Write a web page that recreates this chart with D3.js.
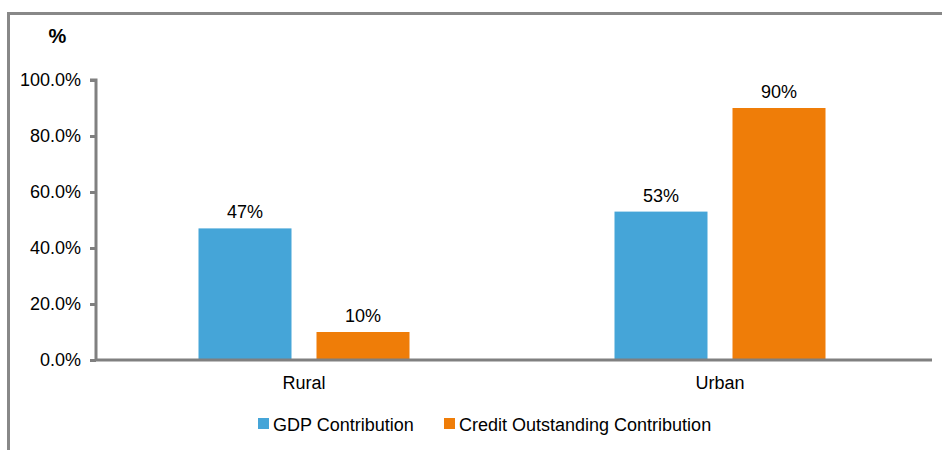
<!DOCTYPE html>
<html>
<head>
<meta charset="utf-8">
<script src="https://cdn.jsdelivr.net/npm/d3@7/dist/d3.min.js"></script>
<style>
  html, body { margin: 0; padding: 0; background: #fff; }
  svg text { font-family: "Liberation Sans", Arial, sans-serif; fill: #000; }
</style>
</head>
<body>
<svg id="chart" width="942" height="450"></svg>
<script>
// Share of GDP vs. share of credit outstanding, rural vs. urban
const categories = ["Rural", "Urban"];
const seriesNames = ["GDP Contribution", "Credit Outstanding Contribution"];
const gdpValues = [47, 53];
const creditValues = [10, 90];
const yTicks = [0, 20, 40, 60, 80, 100];
const colors = ["#45A5D8", "#EF7D08"];

const svg = d3.select("#chart");
const W = 942, H = 450;
const plotLeft = 96, plotRight = 932, plotTop = 80, plotBottom = 360;
const FONT = "Liberation Sans, Arial, sans-serif";

// outer frame (top and left edges visible)
svg.append("path")
  .attr("d", `M8.5,${H} L8.5,13.5 L${W},13.5`)
  .attr("fill", "none").attr("stroke", "#888").attr("stroke-width", 3);

const x = d3.scaleBand().domain(categories).range([plotLeft, 928]);
const groupWidth = 211;
const x1 = d3.scaleBand().domain(seriesNames).range([0, groupWidth]).paddingInner(25 / 118);
const y = d3.scaleLinear().domain([0, 100]).range([plotBottom, plotTop]);

const data = categories.map((c, i) => ({ cat: c, values: [gdpValues[i], creditValues[i]] }));

// bars
const groups = svg.append("g").selectAll("g").data(data).join("g")
  .attr("transform", d => `translate(${x(d.cat) + x.bandwidth() / 2 - groupWidth / 2},0)`);

groups.selectAll("rect").data(d => d.values.map((v, j) => ({ v, s: seriesNames[j], j })))
  .join("rect")
  .attr("x", d => x1(d.s))
  .attr("width", x1.bandwidth())
  .attr("y", d => y(d.v))
  .attr("height", d => y(0) - y(d.v))
  .attr("fill", d => colors[d.j]);

groups.selectAll("text").data(d => d.values.map((v, j) => ({ v, s: seriesNames[j] })))
  .join("text")
  .attr("x", d => x1(d.s) + x1.bandwidth() / 2)
  .attr("y", d => y(d.v) - 10)
  .attr("text-anchor", "middle")
  .style("font-size", "18px")
  .text(d => d.v + "%");

// y axis
const yAxis = svg.append("g").attr("transform", `translate(${plotLeft},0)`)
  .call(d3.axisLeft(y).tickValues(yTicks).tickSize(6).tickPadding(9)
    .tickFormat(d => d.toFixed(1) + "%"));
yAxis.select(".domain").attr("stroke", "#808080").attr("stroke-width", 3)
  .attr("d", `M-6,${y(100)}H0V${y(0)}`);
yAxis.selectAll(".tick line").attr("stroke", "#808080").attr("stroke-width", 3);
yAxis.selectAll(".tick text").style("font-size", "18px").attr("fill", "#000")
  .style("font-family", FONT);

// x axis baseline and labels
const xAxis = svg.append("g").attr("transform", `translate(0,${plotBottom})`)
  .call(d3.axisBottom(x).tickSize(0).tickPadding(16));
xAxis.select(".domain").attr("stroke", "#808080").attr("stroke-width", 3)
  .attr("d", `M${plotLeft},0H${plotRight}`);
xAxis.selectAll(".tick text").style("font-size", "18px").attr("fill", "#000")
  .style("font-family", FONT);

// unit label
svg.append("text").attr("x", 57.5).attr("y", 43).attr("text-anchor", "middle")
  .style("font-size", "20px").style("font-weight", "bold").text("%");

// legend
const legendX = [258, 444];
const legend = svg.append("g").selectAll("g").data(seriesNames).join("g")
  .attr("transform", (d, i) => `translate(${legendX[i]},418)`);
legend.append("rect").attr("width", 11).attr("height", 11).attr("fill", (d, i) => colors[i]);
legend.append("text").attr("x", 15).attr("y", 12.5)
  .style("font-size", "18px").text(d => d);
</script>
</body>
</html>
